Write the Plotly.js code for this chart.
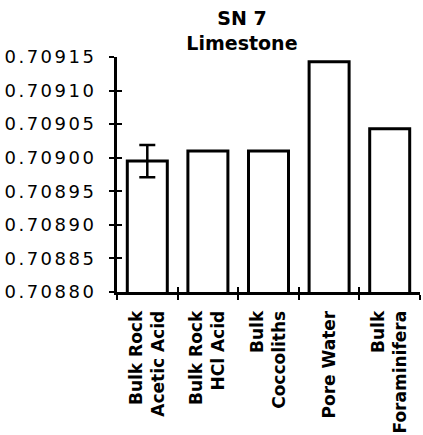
<!DOCTYPE html>
<html><head><meta charset="utf-8">
<script src="https://cdn.plot.ly/plotly-3.0.1.min.js"></script>
<style>
html,body{margin:0;padding:0;background:#fff;}
#chart{width:423px;height:435px;}
.ytick text{letter-spacing:2.5px;}
</style></head>
<body><div id="chart"></div>
<script>
const categories = ["Bulk Rock<br>Acetic Acid","Bulk Rock<br>HCl Acid","Bulk<br>Coccoliths","Pore Water","Bulk<br>Foraminifera"];
const values = [0.708995, 0.709010, 0.709010, 0.709143, 0.709043];
const errors = [0.000024, NaN, NaN, NaN, NaN];
const yTicks = [0.70880,0.70885,0.70890,0.70895,0.70900,0.70905,0.70910,0.70915];
const titleText = "SN 7<br>Limestone";

const traces = [{
  type:'bar', x:categories, y:values,
  marker:{color:'#ffffff', line:{color:'#000', width:3}},
  error_y:{type:'data', array:errors, visible:true, color:'#000', thickness:2.5, width:8},
  hoverinfo:'skip'
},{
  type:'bar', x:categories, y:values, xaxis:'x2', yaxis:'y2',
  marker:{color:'rgba(0,0,0,0)', line:{width:0}}, hoverinfo:'skip', showlegend:false
}];

const layout = {
  width:423, height:435,
  margin:{l:117, r:3, t:57, b:143},
  paper_bgcolor:'#fff', plot_bgcolor:'#fff',
  showlegend:false, bargap:0.34,
  title:{text:titleText, font:{family:'DejaVu Sans', size:19, weight:'bold', color:'#000'},
    xref:'container', x:0.572, xanchor:'center', yref:'container', y:0.942, yanchor:'top'},
  xaxis:{type:'category', categoryarray:categories, range:[-0.5,4.5],
    showline:true, linecolor:'#000', linewidth:3, showgrid:false, zeroline:false,
    tickson:'boundaries', ticks:'outside', ticklen:5, tickwidth:2, tickcolor:'#000',
    tickangle:-90, ticklabelstandoff:9,
    tickfont:{family:'DejaVu Sans', size:17, weight:'bold', color:'#000'}},
  yaxis:{range:[yTicks[0], yTicks[yTicks.length-1]], tickvals:yTicks, tickformat:'.5f',
    showline:true, linecolor:'#000', linewidth:3, showgrid:false, zeroline:false,
    ticks:'outside', ticklen:5, tickwidth:2, tickcolor:'#000', ticklabelstandoff:9,
    tickfont:{family:'DejaVu Sans', size:18, color:'#000'}},
  xaxis2:{type:'category', categoryarray:categories, range:[-0.5,4.5], overlaying:'x',
    showline:false, showgrid:false, zeroline:false, tickson:'boundaries',
    ticks:'inside', ticklen:5, tickwidth:2, tickcolor:'#000', showticklabels:false},
  yaxis2:{range:[yTicks[0], yTicks[yTicks.length-1]], tickvals:yTicks, overlaying:'y',
    showline:false, showgrid:false, zeroline:false,
    ticks:'inside', ticklen:5, tickwidth:2, tickcolor:'#000', showticklabels:false}
};
Plotly.newPlot('chart', traces, layout, {displayModeBar:false, staticPlot:true});
</script></body></html>
